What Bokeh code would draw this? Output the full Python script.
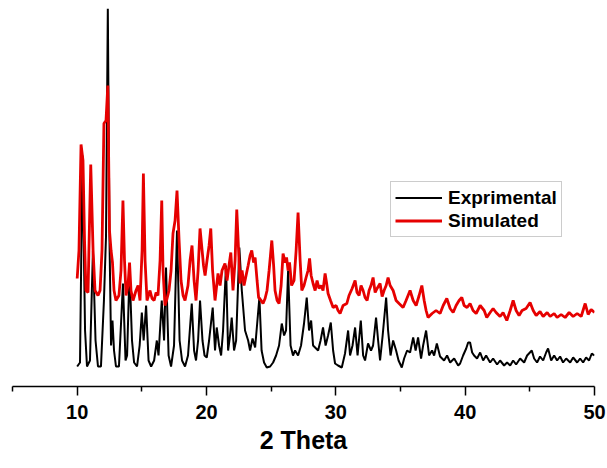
from bokeh.plotting import figure
from bokeh.models import Range1d, FixedTicker, Legend, LegendItem
from bokeh.embed import file_html
from bokeh.resources import INLINE

# Experimental pattern (2 theta, intensity a.u.)
exp_2theta = [10.0, 10.22, 10.41, 10.61, 10.76, 10.99, 11.22, 11.42, 11.61, 11.84,
              12.07, 12.23, 12.37, 12.50, 12.62, 12.73, 12.85, 13.00, 13.23, 13.54,
              13.74, 13.86, 14.05, 14.24, 14.40, 14.63, 14.83, 15.00, 15.14, 15.33,
              15.52, 15.72, 15.95, 16.16, 16.29, 16.54, 16.72, 16.87, 17.07, 17.26,
              17.49, 17.72, 17.92, 18.11, 18.34, 18.57, 18.86, 19.04, 19.19, 19.35,
              19.50, 19.69, 19.85, 20.02, 20.20, 20.48, 20.66, 20.79, 20.97, 21.13,
              21.28, 21.51, 21.67, 21.82, 21.95, 22.13, 22.29, 22.54, 22.73, 22.98,
              23.22, 23.37, 23.56, 23.76, 24.09, 24.26, 24.45, 24.66, 24.92, 25.15,
              25.38, 25.61, 25.82, 26.00, 26.15, 26.31, 26.50, 26.69, 26.85, 27.08,
              27.31, 27.54, 27.75, 27.93, 28.09, 28.24, 28.63, 28.82, 29.01, 29.21,
              29.40, 29.61, 29.79, 29.94, 30.17, 30.46, 30.71, 30.95, 31.10, 31.29,
              31.49, 31.68, 31.93, 32.11, 32.26, 32.49, 32.72, 32.88, 33.11, 33.27,
              33.42, 33.62, 33.89, 34.04, 34.23, 34.43, 34.66, 34.85, 35.10, 35.28,
              35.51, 35.74, 35.98, 36.17, 36.36, 36.59, 36.75, 36.98, 37.21, 37.44,
              37.60, 37.81, 38.06, 38.37, 38.60, 38.84, 39.15, 39.46, 39.61, 39.84,
              40.08, 40.23, 40.38, 40.54, 40.69, 40.92, 41.16, 41.39, 41.62, 41.93,
              42.16, 42.47, 42.70, 43.01, 43.24, 43.48, 43.71, 43.94, 44.25, 44.56,
              44.79, 45.15, 45.33, 45.56, 45.79, 46.03, 46.26, 46.41, 46.65, 46.88,
              47.11, 47.34, 47.57, 47.81, 48.12, 48.35, 48.66, 48.89, 49.12, 49.35,
              49.58, 49.79, 50.0]
exp_intensity = [230, 270, 2340, 590, 230, 290, 1390, 490, 230, 230,
                 890, 1530, 3810, 1490, 440, 690, 390, 230, 230, 1060,
                 290, 340, 1190, 490, 270, 230, 440, 770, 490, 840,
                 290, 230, 290, 490, 340, 890, 490, 1220, 340, 230,
                 440, 1590, 490, 290, 230, 340, 860, 390, 290, 490,
                 890, 490, 340, 320, 490, 820, 390, 620, 440, 340,
                 590, 1240, 390, 540, 720, 390, 490, 1420, 990, 590,
                 490, 390, 510, 420, 920, 390, 270, 220, 230, 270,
                 340, 440, 660, 540, 590, 1190, 440, 340, 390, 340,
                 440, 660, 920, 590, 690, 440, 390, 490, 620, 440,
                 540, 670, 390, 260, 240, 220, 360, 590, 340, 440,
                 620, 340, 690, 340, 290, 460, 390, 440, 720, 490,
                 290, 540, 920, 590, 340, 490, 390, 290, 220, 310,
                 390, 370, 520, 390, 520, 310, 440, 590, 340, 390,
                 340, 460, 330, 290, 340, 270, 310, 240, 260, 340,
                 410, 470, 470, 370, 340, 310, 370, 290, 340, 270,
                 310, 250, 290, 240, 270, 240, 290, 250, 310, 270,
                 340, 390, 310, 270, 330, 290, 370, 410, 290, 340,
                 290, 330, 270, 310, 270, 320, 270, 310, 270, 320,
                 290, 360, 340]

# Simulated pattern (2 theta, intensity a.u.)
sim_2theta = [10.0, 10.14, 10.30, 10.45, 10.57, 10.68, 10.84, 11.05, 11.23, 11.38,
              11.61, 11.77, 11.92, 12.07, 12.23, 12.37, 12.50, 12.62, 12.73, 12.85,
              13.00, 13.23, 13.39, 13.54, 13.66, 13.78, 13.93, 14.05, 14.16, 14.32,
              14.55, 14.71, 14.86, 15.02, 15.12, 15.25, 15.40, 15.63, 15.79, 15.95,
              16.10, 16.25, 16.41, 16.54, 16.64, 16.79, 16.95, 17.10, 17.26, 17.41,
              17.57, 17.72, 17.88, 18.03, 18.19, 18.34, 18.57, 18.73, 18.88, 19.04,
              19.19, 19.35, 19.50, 19.66, 19.77, 19.89, 20.04, 20.20, 20.33, 20.47,
              20.66, 20.89, 21.05, 21.20, 21.43, 21.59, 21.74, 21.88, 22.05, 22.21,
              22.34, 22.48, 22.59, 22.75, 22.90, 23.06, 23.22, 23.37, 23.50, 23.64,
              23.76, 23.91, 24.03, 24.22, 24.37, 24.53, 24.68, 24.84, 25.05, 25.19,
              25.30, 25.46, 25.61, 25.77, 25.92, 26.08, 26.19, 26.31, 26.42, 26.58,
              26.77, 26.93, 27.08, 27.24, 27.37, 27.54, 27.70, 27.85, 27.97, 28.09,
              28.24, 28.40, 28.55, 28.70, 28.86, 29.01, 29.17, 29.28, 29.40, 29.59,
              29.79, 30.02, 30.17, 30.33, 30.56, 30.85, 31.02, 31.26, 31.49, 31.64,
              31.80, 31.95, 32.11, 32.26, 32.42, 32.57, 32.72, 32.88, 33.04, 33.19,
              33.42, 33.58, 33.73, 33.89, 34.04, 34.20, 34.43, 34.66, 34.89, 35.20,
              35.43, 35.74, 35.98, 36.21, 36.44, 36.65, 36.83, 36.98, 37.13, 37.44,
              37.75, 38.06, 38.30, 38.58, 38.84, 39.07, 39.30, 39.53, 39.74, 39.92,
              40.15, 40.38, 40.61, 40.85, 41.16, 41.47, 41.67, 41.93, 42.16, 42.39,
              42.70, 42.93, 43.22, 43.48, 43.71, 43.94, 44.17, 44.40, 44.71, 45.02,
              45.26, 45.49, 45.79, 46.03, 46.34, 46.57, 46.88, 47.11, 47.42, 47.73,
              48.04, 48.35, 48.66, 48.97, 49.28, 49.51, 49.74, 50.0]
sim_intensity = [1110, 1390, 2450, 2290, 1490, 990, 970, 2250, 1390, 990,
                 940, 990, 1390, 2660, 2690, 3040, 1590, 1390, 1270, 990,
                 890, 940, 1190, 1890, 1290, 940, 1040, 1270, 990, 890,
                 990, 1040, 890, 1390, 2160, 1290, 890, 990, 910, 890,
                 970, 940, 1290, 1890, 1190, 840, 910, 990, 1190, 1560,
                 1690, 1990, 1490, 1090, 940, 890, 1040, 1290, 1440, 1090,
                 890, 1190, 1610, 1390, 1240, 1140, 1290, 1440, 1610, 1190,
                 890, 1160, 1040, 1190, 1260, 1090, 1240, 1370, 990, 1290,
                 1800, 1390, 1060, 1190, 1040, 1140, 1240, 1340, 1390, 1270,
                 1320, 1090, 920, 890, 860, 910, 990, 1190, 1490, 1240,
                 990, 890, 860, 1040, 1360, 1270, 1320, 1190, 1270, 1040,
                 1090, 1390, 1770, 1290, 990, 1040, 1120, 1190, 1310, 1140,
                 1060, 990, 1090, 1010, 1040, 990, 1160, 1070, 960, 890,
                 820, 840, 790, 760, 840, 860, 940, 1010, 1090, 970,
                 940, 1040, 990, 920, 890, 990, 1040, 1120, 970, 1010,
                 1060, 930, 990, 1040, 1120, 1040, 990, 890, 860, 820,
                 890, 990, 890, 840, 940, 1040, 890, 790, 720, 760,
                 790, 760, 840, 910, 810, 770, 840, 890, 920, 840,
                 820, 860, 790, 760, 840, 790, 720, 770, 810, 770,
                 730, 770, 690, 790, 890, 790, 740, 790, 810, 870,
                 790, 740, 780, 730, 770, 730, 760, 720, 750, 720,
                 770, 730, 760, 730, 860, 750, 800, 770]

p = figure(width=607, height=468, output_backend="svg", toolbar_location=None,
           x_range=Range1d(5, 50), y_range=Range1d(30, 3810),
           y_axis_location=None, min_border_left=12, min_border_right=13,
           min_border_top=8, min_border_bottom=82)
p.outline_line_color = None
p.xgrid.visible = False
p.ygrid.visible = False
p.background_fill_color = "white"
p.border_fill_color = "white"

r_exp = p.line(exp_2theta, exp_intensity, line_color="black", line_width=2)
r_sim = p.line(sim_2theta, sim_intensity, line_color="#e60000", line_width=2.8)

ax = p.xaxis[0]
ax.ticker = FixedTicker(ticks=[10, 20, 30, 40, 50], minor_ticks=[5, 15, 25, 35, 45])
ax.axis_line_width = 1.5
ax.axis_line_color = "black"
ax.major_tick_line_width = 1.5
ax.minor_tick_line_width = 1.5
ax.major_tick_out = 9
ax.major_tick_in = 0
ax.minor_tick_out = 5
ax.minor_tick_in = 0
ax.major_label_text_font = "Liberation Sans"
ax.major_label_text_font_style = "bold"
ax.major_label_text_font_size = "20px"
ax.major_label_text_color = "black"
ax.major_label_standoff = 9
ax.axis_label = "2 Theta"
ax.axis_label_text_font = "Liberation Sans"
ax.axis_label_text_font_style = "bold"
ax.axis_label_text_font_size = "25px"
ax.axis_label_text_color = "black"
ax.axis_label_standoff = 4

legend = Legend(items=[LegendItem(label="Exprimental", renderers=[r_exp]),
                       LegendItem(label="Simulated", renderers=[r_sim])],
                location=(378, 149))
legend.label_text_font = "Liberation Sans"
legend.label_text_font_style = "bold"
legend.label_text_font_size = "19px"
legend.label_text_color = "black"
legend.glyph_width = 47
legend.glyph_height = 23
legend.label_height = 23
legend.label_standoff = 6
legend.padding = 4
legend.spacing = 0
legend.margin = 0
legend.border_line_color = "#999999"
legend.border_line_width = 1
legend.background_fill_alpha = 1
p.add_layout(legend)

open("out.html", "w").write(file_html(p, INLINE))
